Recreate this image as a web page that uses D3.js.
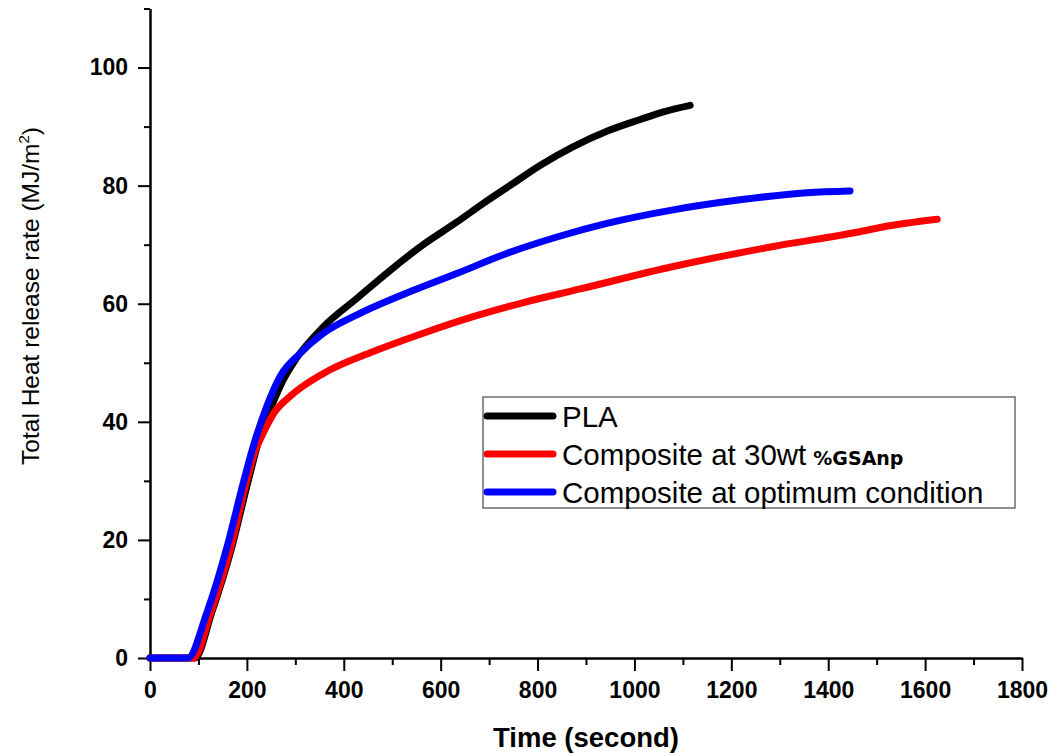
<!DOCTYPE html>
<html>
<head>
<meta charset="utf-8">
<script src="https://cdn.jsdelivr.net/npm/d3@7"></script>
<style>
  html, body { margin: 0; padding: 0; background: #fff; }
  svg { display: block; }
</style>
</head>
<body>
<svg id="chart" width="1055" height="756"></svg>
<script>
// ---- Data ----
const seriesNames = ["PLA", "Composite at 30wt", "Composite at optimum condition"];
const seriesColors = ["#000000", "#ff0000", "#0000ff"];

const plaTime = [0, 93, 127, 169, 203, 231, 250, 275, 300, 358, 427, 495, 564, 633, 688, 750, 805, 874, 943, 1012, 1060, 1115];
const plaTHR  = [0, 0, 7.6, 18.8, 30.1, 38.6, 42.5, 47.1, 50.5, 56.1, 60.9, 65.6, 70.0, 73.8, 77.0, 80.4, 83.4, 86.6, 89.2, 91.2, 92.5, 93.6];

const gsaTime = [0, 90, 125, 167, 200, 219, 227, 241, 255, 289, 358, 461, 564, 667, 771, 888, 1080, 1287, 1459, 1513, 1625];
const gsaTHR  = [0, 0, 7.6, 18.8, 30.1, 35.5, 36.9, 39.3, 41.4, 44.3, 48.2, 51.9, 55.0, 57.8, 60.2, 62.5, 66.3, 69.7, 72.1, 73.0, 74.3];

const optTime = [0, 78, 117, 159, 194, 213, 241, 268, 310, 358, 427, 530, 633, 736, 840, 943, 1080, 1218, 1356, 1445];
const optTHR  = [0, 0, 7.6, 18.8, 30.1, 35.8, 42.6, 47.6, 51.6, 55.0, 58.1, 61.8, 65.1, 68.5, 71.3, 73.6, 75.9, 77.6, 78.8, 79.1];

const xMajorTicks = [0, 200, 400, 600, 800, 1000, 1200, 1400, 1600, 1800];
const xMinorTicks = [100, 300, 500, 700, 900, 1100, 1300, 1500, 1700];
const yMajorTicks = [0, 20, 40, 60, 80, 100];
const yMinorTicks = [10, 30, 50, 70, 90, 110];

const xTitle = "Time (second)";
const yTitle = "Total Heat release rate (MJ/m";

// ---- Chart ----
const svg = d3.select("#chart");
const x = d3.scaleLinear().domain([0, 1800]).range([150, 1022]);
const y = d3.scaleLinear().domain([0, 110]).range([658, 8.5]);

const tickFont = "'Liberation Sans', Arial, sans-serif";

const gx = svg.append("g").attr("transform", `translate(0,${y(0)})`)
  .call(d3.axisBottom(x).tickValues(xMajorTicks).tickSize(13).tickSizeOuter(0).tickPadding(11).tickFormat(d3.format("d")));
const gxm = svg.append("g").attr("transform", `translate(0,${y(0)})`)
  .call(d3.axisBottom(x).tickValues(xMinorTicks).tickSize(7).tickSizeOuter(0).tickFormat(""));
const gy = svg.append("g").attr("transform", `translate(${x(0)},0)`)
  .call(d3.axisLeft(y).tickValues(yMajorTicks).tickSize(12).tickSizeOuter(0).tickPadding(10).tickFormat(d3.format("d")));
const gym = svg.append("g").attr("transform", `translate(${x(0)},0)`)
  .call(d3.axisLeft(y).tickValues(yMinorTicks).tickSize(6).tickSizeOuter(0).tickFormat(""));

[gx, gxm, gy, gym].forEach(g => {
  g.selectAll("path.domain").attr("stroke", "#000").attr("stroke-width", 2);
  g.selectAll(".tick line").attr("stroke", "#000").attr("stroke-width", 2);
  g.selectAll(".tick text")
    .attr("font-family", tickFont)
    .attr("font-weight", "bold")
    .attr("font-size", 23)
    .attr("fill", "#000");
});

svg.append("text")
  .attr("x", 586).attr("y", 747)
  .attr("text-anchor", "middle")
  .attr("font-family", tickFont)
  .attr("font-weight", "bold")
  .attr("font-size", 27.5)
  .attr("fill", "#000")
  .text(xTitle);

const yt = svg.append("text")
  .attr("transform", "translate(39,296) rotate(-90)")
  .attr("text-anchor", "middle")
  .attr("font-family", tickFont)
  .attr("font-size", 24.5)
  .attr("fill", "#000");
yt.append("tspan").text(yTitle);
yt.append("tspan").attr("font-size", 15).attr("dy", -10).text("2");
yt.append("tspan").attr("dy", 10).text(")");

const seriesData = [
  plaTime.map((t, i) => [t, plaTHR[i]]),
  gsaTime.map((t, i) => [t, gsaTHR[i]]),
  optTime.map((t, i) => [t, optTHR[i]])
];
const line = d3.line().x(d => x(d[0])).y(d => y(d[1])).curve(d3.curveMonotoneX);

svg.append("g").selectAll("path.series")
  .data(seriesData)
  .join("path")
  .attr("class", "series")
  .attr("d", line)
  .attr("fill", "none")
  .attr("stroke", (d, i) => seriesColors[i])
  .attr("stroke-width", 7)
  .attr("stroke-linecap", "round")
  .attr("stroke-linejoin", "round");

// Legend
const legend = svg.append("g");
legend.append("rect")
  .attr("x", 483).attr("y", 397).attr("width", 532).attr("height", 111)
  .attr("fill", "#fff").attr("stroke", "#555").attr("stroke-width", 1.3);

const legY = [416, 454, 492];
seriesNames.forEach((name, i) => {
  legend.append("line")
    .attr("x1", 487).attr("x2", 553)
    .attr("y1", legY[i]).attr("y2", legY[i])
    .attr("stroke", seriesColors[i]).attr("stroke-width", 7)
    .attr("stroke-linecap", "round");
  const t = legend.append("text")
    .attr("x", 562).attr("y", legY[i] + 10.5)
    .attr("font-family", tickFont)
    .attr("font-size", 29.5)
    .attr("fill", "#000");
  t.append("tspan").text(name);
  if (i === 1) {
    t.append("tspan")
      .attr("dx", 7)
      .attr("font-family", "'DejaVu Sans', Verdana, sans-serif")
      .attr("font-weight", "bold")
      .attr("font-size", 19)
      .text("%GSAnp");
  }
});
</script>
</body>
</html>
